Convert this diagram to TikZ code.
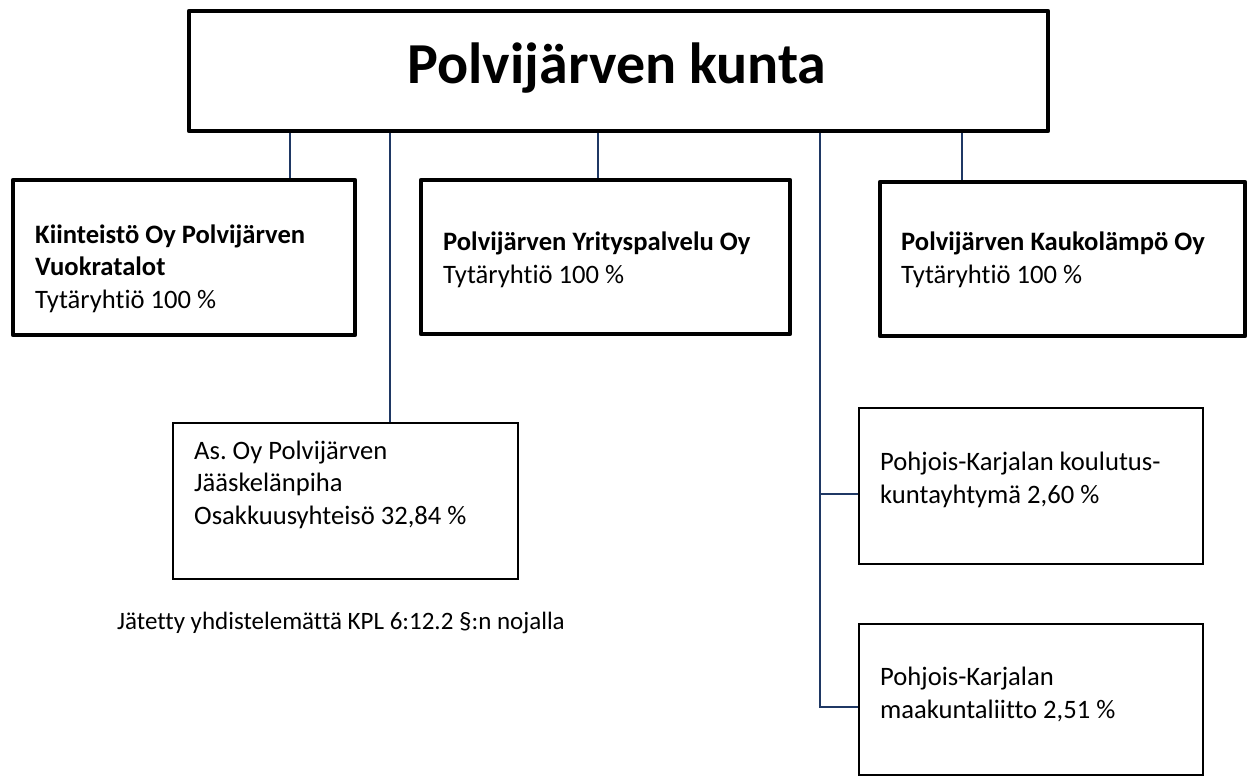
\documentclass[tikz,border=0pt]{standalone}
\usepackage{fontspec}
\setmainfont{Carlito}[Ligatures=NoCommon]
\definecolor{navy}{HTML}{1F3864}
\frenchspacing
\begin{document}
\begin{tikzpicture}[x=1pt,y=-1pt,
  thickbox/.style={draw=black,line width=4.3pt,line join=round,inner sep=0pt},
  thinbox/.style={draw=black,line width=1.4pt,inner sep=0pt},
  conn/.style={draw=navy,line width=1.8pt},
  txt/.style={anchor=base west,inner sep=0pt,align=left,font=\fontsize{26.6}{32.5}\selectfont}]
\useasboundingbox (0,0) rectangle (1249,778);
% boxes
\node[thickbox,minimum width=859pt,minimum height=120pt] (top) at (618.5,71) {};
\node[thickbox,minimum width=342pt,minimum height=155pt] (kii) at (184,257.5) {};
\node[thickbox,minimum width=369pt,minimum height=154pt] (yri) at (605.5,257) {};
\node[thickbox,minimum width=365pt,minimum height=154pt] (kau) at (1062.5,259) {};
\node[thinbox,minimum width=345pt,minimum height=156pt] (aso) at (345.5,501) {};
\node[thinbox,minimum width=344pt,minimum height=156pt] (kou) at (1031,486) {};
\node[thinbox,minimum width=344pt,minimum height=151pt] (maa) at (1031,699.5) {};
% texts (base anchor = baseline of last line)
\node[anchor=base,inner sep=0pt,font=\fontsize{58}{60}\selectfont\bfseries] (ttop) at (617,84) {Polvijärven kunta};
\node[txt] (tkii) at (35,308) {\textbf{Kiinteistö Oy Polvijärven}\\\textbf{Vuokratalot}\\Tytäryhtiö 100 \%};
\node[txt] (tyri) at (443,283) {\textbf{Polvijärven Yrityspalvelu Oy}\\Tytäryhtiö 100 \%};
\node[txt] (tkau) at (901,283) {\textbf{Polvijärven Kaukolämpö Oy}\\Tytäryhtiö 100 \%};
\node[txt] (taso) at (194,524) {As. Oy Polvijärven\\Jääskelänpiha\\Osakkuusyhteisö 32,84 \%};
\node[txt] (tkou) at (880,503) {Pohjois-Karjalan koulutus-\\kuntayhtymä 2,60 \%};
\node[txt] (tmaa) at (880,718) {Pohjois-Karjalan\\maakuntaliitto 2,51 \%};
\node[txt,font=\fontsize{25}{30}\selectfont] (note) at (117,629) {Jätetty yhdistelemättä KPL 6:12.2 §:n nojalla};
% connector positions
\coordinate (x1) at (290,0);
\coordinate (x2) at (390,0);
\coordinate (x3) at (598,0);
\coordinate (x4) at (820,0);
\coordinate (x5) at (962,0);
\coordinate (b1) at (820,494);
\coordinate (b2) at (820,707);
\draw[conn] (x1 |- top.south) -- (x1 |- kii.north);
\draw[conn] (x2 |- top.south) -- (x2 |- aso.north);
\draw[conn] (x3 |- top.south) -- (x3 |- yri.north);
\draw[conn] (x5 |- top.south) -- (x5 |- kau.north);
\draw[conn] (x4 |- top.south) -- (b2) -- (b2 -| maa.west);
\draw[conn] (b1) -- (b1 -| kou.west);
\end{tikzpicture}
\end{document}
